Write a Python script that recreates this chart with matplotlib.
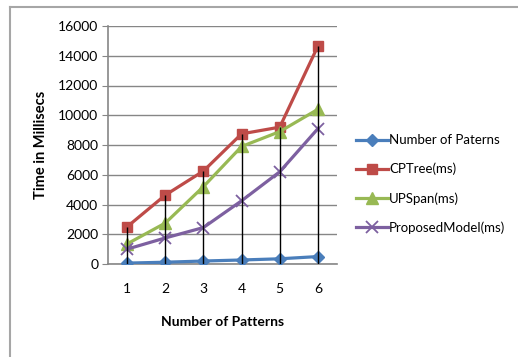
import matplotlib.pyplot as plt
import numpy as np

plt.rcParams['font.family'] = ['Lato', 'DejaVu Sans']

# data
patterns = [1, 2, 3, 4, 5, 6]
num_paterns = [60, 120, 200, 270, 350, 500]
cptree = [2500, 4630, 6250, 8750, 9200, 14650]
upspan = [1350, 2750, 5200, 7900, 8900, 10400]
proposed = [1000, 1750, 2450, 4250, 6200, 9100]

fig = plt.figure(figsize=(5.18, 3.57), dpi=100)
ax = fig.add_axes([108 / 518, 1 - 264 / 357, 229 / 518, 238 / 357])

# outer chart border (only top and left visible)
fig.add_artist(plt.Line2D([10 / 518, 1], [1 - 7 / 357, 1 - 7 / 357], color='#a6a6a6', lw=1.5))
fig.add_artist(plt.Line2D([10 / 518, 10 / 518], [0, 1 - 7 / 357], color='#a6a6a6', lw=1.5))

x = np.arange(len(patterns))

ax.plot(x, num_paterns, color='#4a7ebb', lw=2.3, marker='D', ms=6, label='Number of Paterns', zorder=3)
ax.plot(x, cptree, color='#be4b48', lw=2.3, marker='s', ms=7, label='CPTree(ms)', zorder=3)
ax.plot(x, upspan, color='#98b954', lw=2.3, marker='^', ms=8, label='UPSpan(ms)', zorder=3)
ax.plot(x, proposed, color='#7d60a0', lw=2.3, marker='x', ms=8, mew=1.3, label='ProposedModel(ms)', zorder=3)

# drop lines from the highest point down to the axis
tops = np.max([num_paterns, cptree, upspan, proposed], axis=0)
ax.vlines(x, 0, tops, color='black', lw=1, zorder=4)

ax.set_xlim(-0.5, len(patterns) - 0.5)
ax.set_ylim(0, 16000)
ax.set_yticks(range(0, 16001, 2000))
ax.set_xticks(x)
ax.set_xticklabels([str(p) for p in patterns])
ax.yaxis.grid(True, color='#868686', lw=1)
ax.set_axisbelow(True)

for s in ['top', 'right']:
    ax.spines[s].set_visible(False)
ax.spines['left'].set_color('#868686')
ax.spines['bottom'].set_color('#868686')
ax.spines['left'].set_linewidth(1.2)
ax.spines['bottom'].set_linewidth(1.2)
ax.tick_params(axis='y', length=4, color='#868686', labelsize=10, pad=3)
ax.tick_params(axis='x', length=0, labelsize=10, pad=14)

ax.set_ylabel('Time in Millisecs', fontsize=10.5, fontweight='bold', labelpad=7)
ax.set_xlabel('Number of Patterns', fontsize=10, fontweight='bold', labelpad=15)

fig.legend(loc='center left', bbox_to_anchor=(356 / 518, 1 - 184 / 357), frameon=False,
           fontsize=9.5, handlelength=2.4, handletextpad=0.1, labelspacing=1.25,
           borderpad=0, borderaxespad=0)

fig.savefig('out.png', dpi=100)
